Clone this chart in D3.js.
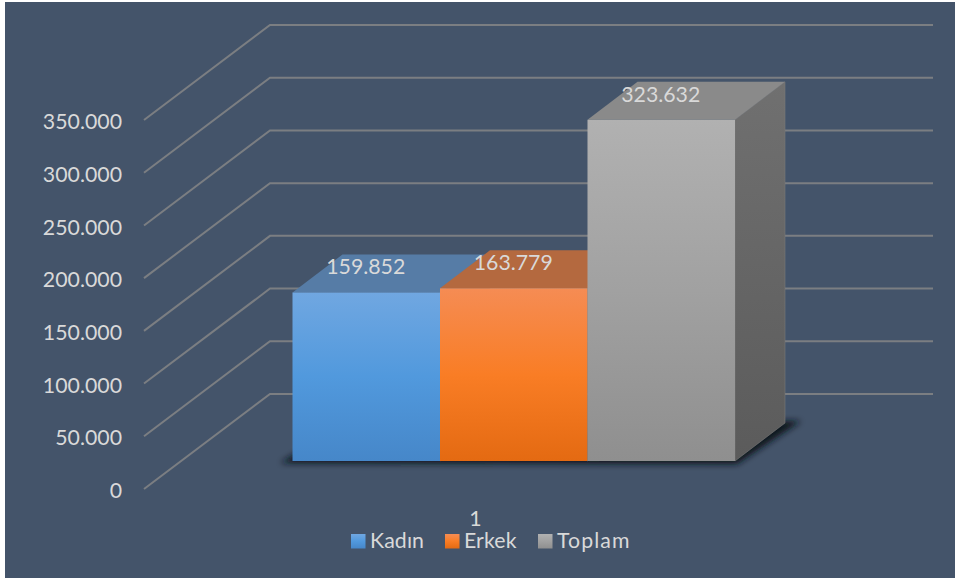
<!DOCTYPE html>
<html>
<head>
<meta charset="utf-8">
<script src="https://cdn.jsdelivr.net/npm/d3@7/dist/d3.min.js"></script>
<style>
  html, body { margin: 0; padding: 0; background: #fff; }
  svg { display: block; }
  text { font-family: Lato, "Open Sans", sans-serif; fill: #d9d9d9; }
</style>
</head>
<body>
<svg id="chart" width="955" height="578"></svg>
<script>
const categories = ["Kadın", "Erkek", "Toplam"];
const values = [159852, 163779, 323632];
const yTicks = [0, 50000, 100000, 150000, 200000, 250000, 300000, 350000];
const xLabels = ["1"];

const frontColors = [["#70a7e1", "#5199dd", "#4687c9"], ["#f58c54", "#f97d25", "#e46a12"], ["#b1b1b1", "#a1a1a1", "#8f8f8f"]];
const topColors = ["#567ca6", "#b4693f", "#8a8a8a"];
const legendX = [351, 445, 538];
const legendTextWidths = [54, 52.5, 72.5];

const svg = d3.select("#chart");
const defs = svg.append("defs");

const tr = d3.formatLocale({ decimal: ",", thousands: ".", grouping: [3], currency: ["", ""] });
const fmt = tr.format(",d");

// front plane of the walls, floor depth goes up and to the right
const wallDx = 126, wallDy = -95;
const yFront = d3.scaleLinear().domain([0, 350000]).range([489, 120]);
const xAxisScale = d3.scaleBand().domain(xLabels).range([144, 807]);
const rightEnd = 933;

// bars sit part way into the floor
const barBase = 461, barDx = 50, barDy = -38;
const x = d3.scaleBand().domain(categories).range([292.5, 735]);
const yBar = d3.scaleLinear().domain([0, 350000]).range([barBase, barBase - 369]);

svg.append("rect").attr("x", 5).attr("y", 2).attr("width", 950).attr("height", 576).attr("fill", "#44546a");

categories.forEach((c, i) => {
    const g = defs.append("linearGradient").attr("id", "front" + i)
        .attr("x1", 0).attr("y1", 0).attr("x2", 0).attr("y2", 1);
    g.append("stop").attr("offset", "0%").attr("stop-color", frontColors[i][0]);
    g.append("stop").attr("offset", "50%").attr("stop-color", frontColors[i][1]);
    g.append("stop").attr("offset", "100%").attr("stop-color", frontColors[i][2]);
});
const sideGrad = defs.append("linearGradient").attr("id", "side")
    .attr("x1", 0).attr("y1", 0).attr("x2", 0).attr("y2", 1);
sideGrad.append("stop").attr("offset", "0%").attr("stop-color", "#707070");
sideGrad.append("stop").attr("offset", "100%").attr("stop-color", "#5b5b5b");

defs.append("filter").attr("id", "blur")
    .attr("x", "-10%").attr("y", "-30%").attr("width", "120%").attr("height", "160%")
    .append("feGaussianBlur").attr("stdDeviation", 3);

// grid lines
svg.append("g").selectAll("polyline")
    .data(yTicks)
    .join("polyline")
    .attr("points", d => {
        const y0 = yFront(d);
        return [[144, y0], [144 + wallDx, y0 + wallDy], [rightEnd, y0 + wallDy]].join(" ");
    })
    .attr("fill", "none")
    .attr("stroke", "#7b7e82")
    .attr("stroke-width", 2);

// shadow under the bars
const xL = x(categories[0]), xR = x(categories[2]) + x.bandwidth();
svg.append("polygon")
    .attr("points", [[xL - 12, barBase + 2], [xR + 2, barBase + 3], [xR + barDx + 16, barBase + barDy - 2], [xR + barDx - 4, barBase + barDy - 2], [xL + 8, barBase - 10]].join(" "))
    .attr("fill", "#10171f")
    .attr("filter", "url(#blur)");

const bars = svg.append("g").selectAll("g")
    .data(categories.map((c, i) => ({ c, i, v: values[i] })))
    .join("g");

// side face, only shows on the last bar, the others are covered
bars.append("polygon")
    .attr("points", d => {
        const xr = x(d.c) + x.bandwidth();
        return [[xr, yBar(d.v)], [xr + barDx, yBar(d.v) + barDy], [xr + barDx, barBase + barDy], [xr, barBase]].join(" ");
    })
    .attr("fill", "url(#side)")
    .attr("stroke", "#7a7a7a")
    .attr("stroke-width", 0.6);

bars.append("polygon")
    .attr("points", d => {
        const xl = x(d.c), xr = xl + x.bandwidth(), yt = yBar(d.v);
        return [[xl, yt], [xl + barDx, yt + barDy], [xr + barDx, yt + barDy], [xr, yt]].join(" ");
    })
    .attr("fill", d => topColors[d.i]);

bars.append("rect")
    .attr("x", d => x(d.c))
    .attr("y", d => yBar(d.v))
    .attr("width", x.bandwidth())
    .attr("height", d => barBase - yBar(d.v))
    .attr("fill", d => `url(#front${d.i})`);

bars.append("text")
    .attr("x", d => x(d.c) + x.bandwidth() / 2 - 0.5)
    .attr("y", d => yBar(d.v) - 18)
    .attr("text-anchor", "middle")
    .style("font-size", "21.3px")
    .text(d => fmt(d.v));

// axes
const yAxis = svg.append("g")
    .attr("transform", "translate(122, 1)")
    .call(d3.axisLeft(yFront).tickValues(yTicks).tickSize(0).tickPadding(0).tickFormat(fmt));
yAxis.select(".domain").remove();
yAxis.selectAll("text").style("font-size", "21.3px").style("font-family", null).attr("dy", "0.36em");

const xAxis = svg.append("g")
    .attr("transform", "translate(0, 511)")
    .call(d3.axisBottom(xAxisScale).tickSize(0).tickPadding(0));
xAxis.select(".domain").remove();
xAxis.selectAll("text").style("font-size", "21.3px").style("font-family", null);

// legend
const legend = svg.append("g").selectAll("g")
    .data(categories)
    .join("g")
    .attr("transform", (d, i) => `translate(${legendX[i]}, 534)`);
legend.append("rect")
    .attr("width", 14.5).attr("height", 14.5)
    .attr("fill", (d, i) => `url(#front${i})`);
legend.append("text")
    .attr("x", 19).attr("y", 14)
    .attr("textLength", (d, i) => legendTextWidths[i])
    .style("font-size", "21.3px")
    .text(d => d);
</script>
</body>
</html>
